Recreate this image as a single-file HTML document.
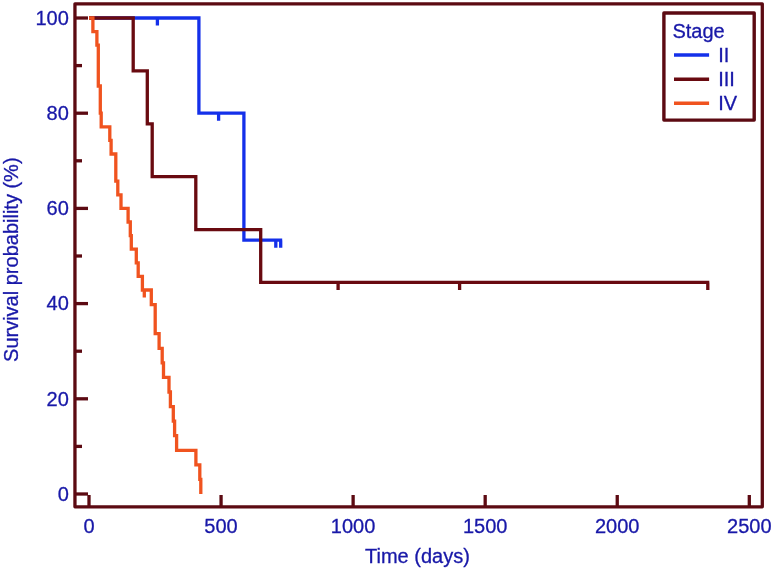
<!DOCTYPE html>
<html><head><meta charset="utf-8"><title>Survival probability by Stage</title>
<style>
html,body{margin:0;padding:0;background:#fff;}
body{width:773px;height:568px;overflow:hidden;}
svg{display:block;}
text{font-family:"Liberation Sans",Arial,Helvetica,sans-serif;font-size:20px;fill:#1818a8;stroke:#1818a8;stroke-width:0.3px;}
</style></head><body>
<svg width="773" height="568" viewBox="0 0 773 568">
<rect x="0" y="0" width="773" height="568" fill="#ffffff"/>

<g stroke="#5c0a12" stroke-width="3.3" fill="none" stroke-linecap="butt">
<line x1="74.95" y1="494.0" x2="88" y2="494.0"/>
<line x1="74.95" y1="446.4" x2="82" y2="446.4"/>
<line x1="74.95" y1="398.8" x2="88" y2="398.8"/>
<line x1="74.95" y1="351.2" x2="82" y2="351.2"/>
<line x1="74.95" y1="303.6" x2="88" y2="303.6"/>
<line x1="74.95" y1="256.0" x2="82" y2="256.0"/>
<line x1="74.95" y1="208.4" x2="88" y2="208.4"/>
<line x1="74.95" y1="160.8" x2="82" y2="160.8"/>
<line x1="74.95" y1="113.2" x2="88" y2="113.2"/>
<line x1="74.95" y1="65.6" x2="82" y2="65.6"/>
<line x1="74.95" y1="18.0" x2="88" y2="18.0"/>
<line x1="89.0" y1="506.85" x2="89.0" y2="495"/>
<line x1="221.06" y1="506.85" x2="221.06" y2="495"/>
<line x1="353.12" y1="506.85" x2="353.12" y2="495"/>
<line x1="485.18" y1="506.85" x2="485.18" y2="495"/>
<line x1="617.24" y1="506.85" x2="617.24" y2="495"/>
<line x1="749.3" y1="506.85" x2="749.3" y2="495"/>
</g>
<text x="68.8" y="500.8" text-anchor="end">0</text>
<text x="68.8" y="405.6" text-anchor="end">20</text>
<text x="68.8" y="310.4" text-anchor="end">40</text>
<text x="68.8" y="215.2" text-anchor="end">60</text>
<text x="68.8" y="120.0" text-anchor="end">80</text>
<text x="68.8" y="24.8" text-anchor="end">100</text>
<text x="89.0" y="533.3" text-anchor="middle">0</text>
<text x="221.06" y="533.3" text-anchor="middle">500</text>
<text x="353.12" y="533.3" text-anchor="middle">1000</text>
<text x="485.18" y="533.3" text-anchor="middle">1500</text>
<text x="617.24" y="533.3" text-anchor="middle">2000</text>
<text x="749.3" y="533.3" text-anchor="middle">2500</text>
<text x="417.4" y="563.0" text-anchor="middle">Time (days)</text>
<text transform="translate(17.7,259.7) rotate(-90)" text-anchor="middle">Survival probability (%)</text>
<path d="M89.0,18.0H198.9V113.2H243.9V240.13H282.2 M157.4,18.0V25.6M218.6,113.2V120.8M275.8,240.13V247.73M280.7,240.13V247.73" fill="none" stroke="#1430ea" stroke-width="3.3" stroke-linejoin="miter"/>
<path d="M89.0,18.0H133.2V70.89H147.3V123.78H152.2V176.67H195.8V229.55H260.7V282.45H709.3 M338.1,282.45V290.05M459.6,282.45V290.05M707.8,282.45V290.05" fill="none" stroke="#690a10" stroke-width="3.3" stroke-linejoin="miter"/>
<path d="M89.0,18.0H92.9V31.6H96.9V45.2H98.3V86.0H100.3V113.2H101.2V126.8H109.8V140.4H111.1V154.0H115.8V181.2H117.8V194.8H121.0V208.4H128.1V222.0H130.3V235.6H131.3V249.2H136.3V262.8H138.2V276.4H142.4V290.0H151.3V304.57H155.2V333.71H159.1V348.29H162.2V362.86H163.5V377.43H169.0V392.0H170.4V406.57H173.3V421.14H174.6V435.71H176.6V450.29H195.9V464.86H199.8V479.43H200.8V494.0 M144.3,290.0V297.6" fill="none" stroke="#f0531f" stroke-width="3.3" stroke-linejoin="miter"/>
<rect x="74.95" y="3.8" width="687.35" height="503.05" fill="none" stroke="#5c0a12" stroke-width="3.3" stroke-linejoin="round"/>
<rect x="663.9" y="13.0" width="90.3" height="107.1" fill="#ffffff" stroke="#5c0a12" stroke-width="3.4" stroke-linejoin="round"/>
<text x="672.4" y="38">Stage</text>
<line x1="674" y1="55" x2="709.1" y2="55" stroke="#1430ea" stroke-width="3.5"/>
<text x="718.2" y="61.9">II</text>
<line x1="674" y1="79.2" x2="709.1" y2="79.2" stroke="#690a10" stroke-width="3.5"/>
<text x="718.2" y="86.10000000000001">III</text>
<line x1="674" y1="103.3" x2="709.1" y2="103.3" stroke="#f0531f" stroke-width="3.5"/>
<text x="718.2" y="110.2">IV</text>
</svg>
</body></html>
